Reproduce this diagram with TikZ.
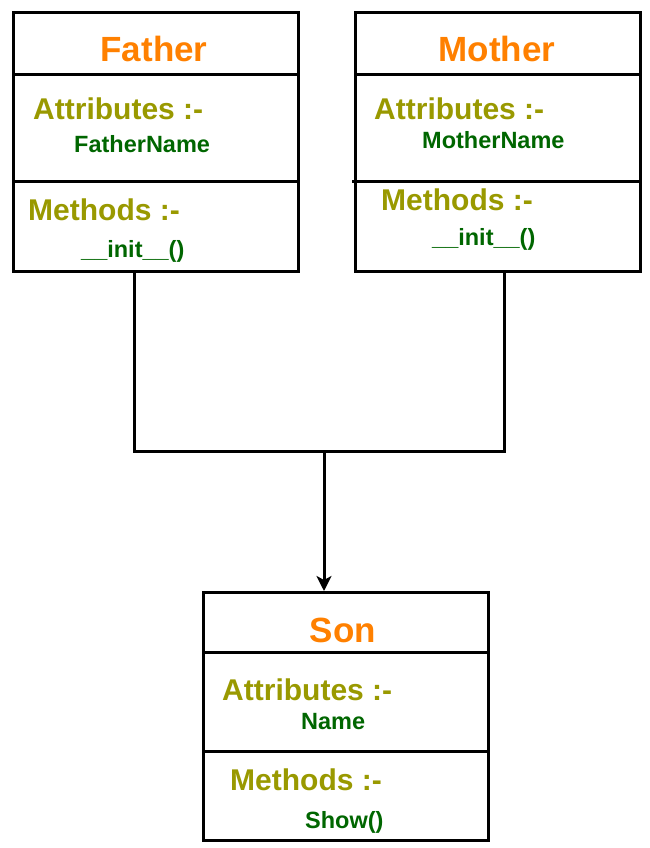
\documentclass[tikz,border=0pt]{standalone}
\usepackage{fontspec}
\setmainfont{Liberation Sans}
\usetikzlibrary{arrows.meta}
\definecolor{titleorange}{HTML}{FF8000}
\definecolor{headolive}{HTML}{999900}
\definecolor{itemgreen}{HTML}{006600}
\tikzset{
  box/.style={draw=black, line width=3pt, inner sep=0pt, anchor=north west},
  divider/.style={draw=black, line width=3pt},
  connline/.style={draw=black, line width=3pt},
  title/.style={text=titleorange, font=\bfseries\fontsize{35}{40}\selectfont, anchor=base, inner sep=0pt},
  head/.style={text=headolive, font=\bfseries\fontsize{30}{36}\selectfont, anchor=base west, inner sep=0pt},
  item/.style={text=itemgreen, font=\bfseries\fontsize{23.5}{28}\selectfont, anchor=base west, inner sep=0pt},
}
\begin{document}
\begin{tikzpicture}[x=1pt,y=-1pt]
\useasboundingbox (0,0) rectangle (649,848);
% Father
\node[box, minimum width=285pt, minimum height=259pt] (father) at (12,11) {};
\draw[divider] (12,75) -- (297,75);
\draw[divider] (12,181) -- (297,181);
\node[title] (fathert) at (154,62) {Father};
\node[head] (fathera) at (33,120) {Attributes :-};
\node[item] (fathern) at (74,153) {FatherName};
\node[head] (fatherm) at (28,220) {Methods :-};
\node[item] (fatheri) at (81,257) {\_\_init\_\_()};
% Mother
\node[box, minimum width=285pt, minimum height=259pt] (mother) at (354,11) {};
\draw[divider] (354,75) -- (639,75);
\draw[divider] (352,181) -- (639,181);
\node[title] (mothert) at (497,62) {Mother};
\node[head] (mothera) at (374,120) {Attributes :-};
\node[item] (mothern) at (422,148) {MotherName};
\node[head] (motherm) at (381,210) {Methods :-};
\node[item] (motheri) at (432,245) {\_\_init\_\_()};
% Son
\node[box, minimum width=285pt, minimum height=248pt] (son) at (202,591) {};
\draw[divider] (202,652) -- (487,652);
\draw[divider] (202,751) -- (487,751);
\node[title] (sont) at (343,642) {Son};
\node[head] (sona) at (222,700) {Attributes :-};
\node[item] (sonn) at (301,729) {Name};
\node[head] (sonm) at (230,790) {Methods :-};
\node[item] (sons) at (305,828) {Show()};
% connectors
\coordinate (jf) at (134,451);
\coordinate (jm) at (504,451);
\coordinate (jc) at (324,451);
\draw[connline] (father.south west -| jf) -- (jf) -- (jm) -- (mother.south west -| jm);
\draw[connline, -{Stealth[length=15pt,width=15pt,inset=4pt]}] (jc) -- (son.north west -| jc);
\end{tikzpicture}
\end{document}
